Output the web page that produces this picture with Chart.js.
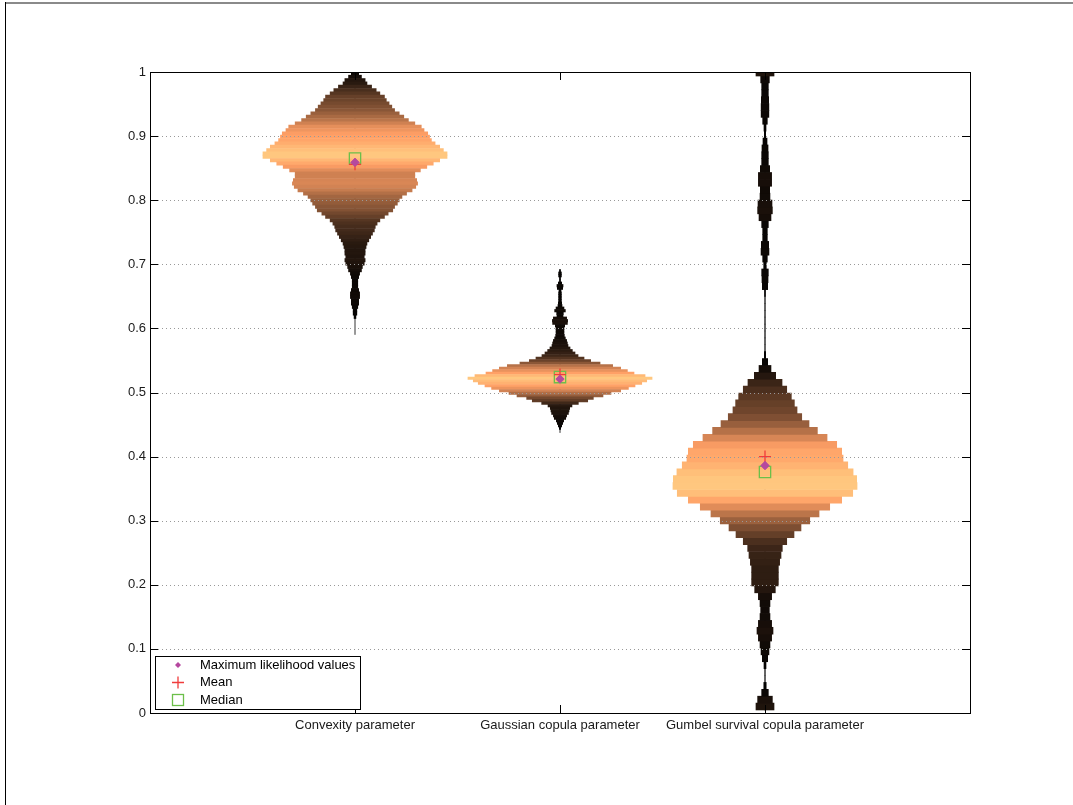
<!DOCTYPE html>
<html>
<head>
<meta charset="utf-8">
<title>Violin plot</title>
<script src="https://cdn.jsdelivr.net/npm/chart.js@4.4.0/dist/chart.umd.min.js"></script>
<style>
  html, body { margin: 0; padding: 0; background: #fff; }
  #wrap { position: relative; width: 1073px; height: 805px; overflow: hidden; }
  #chart { position: absolute; left: 0; top: 0; }
  .edge-top { position: absolute; left: 5px; top: 2px; width: 1068px; height: 2px; background: #8a8a8a; }
  .edge-left { position: absolute; left: 5px; top: 2px; width: 1px; height: 803px; background: #000; }
</style>
</head>
<body>
<div id="wrap">
  <canvas id="chart" width="1073" height="805"></canvas>
  <div class="edge-top"></div>
  <div class="edge-left"></div>
</div>
<script>
// Categories and tick labels
const categories = ['Convexity parameter', 'Gaussian copula parameter', 'Gumbel survival copula parameter'];
const legendLabels = ['Maximum likelihood values', 'Mean', 'Median'];

// Summary statistics per parameter
const mlValues = [0.859, 0.521, 0.386];
const meanValues = [0.856, 0.528, 0.400];
const medianValues = [0.865, 0.524, 0.376];
const rangeMin = [0.590, 0.437, 0.004];
const rangeMax = [1.000, 0.692, 1.000];

// Histogram bins (first bin centre, bin step) per parameter
const convexityBins = [0.9976, -0.0052];
const gaussianBins = [0.6900, -0.0039];
const gumbelBins = [0.0101, 0.01075];

// Relative density in each bin (1 = widest bin of that violin)
const convexityDensity = [
  0.04, 0.07, 0.11, 0.13, 0.18, 0.23, 0.27, 0.32, 0.34, 0.37,
  0.40, 0.43, 0.48, 0.53, 0.58, 0.65, 0.72, 0.75, 0.79, 0.81,
  0.83, 0.87, 0.92, 0.96, 1.00, 1.00, 0.92, 0.85, 0.78, 0.71,
  0.65, 0.65, 0.67, 0.68, 0.66, 0.62, 0.56, 0.51, 0.48, 0.46,
  0.43, 0.41, 0.36, 0.32, 0.27, 0.24, 0.22, 0.21, 0.19, 0.17,
  0.15, 0.13, 0.12, 0.11, 0.11, 0.10, 0.11, 0.10, 0.08, 0.07,
  0.05, 0.04, 0.03, 0.03, 0.03, 0.04, 0.05, 0.05, 0.04, 0.04,
  0.03, 0.02, 0.02, 0.01
];
const gaussianDensity = [
  0.005, 0.015, 0.015, 0.005, 0.005, 0.018, 0.033, 0.029, 0.011, 0.015,
  0.015, 0.015, 0.015, 0.018, 0.022, 0.043, 0.058, 0.036, 0.033, 0.072,
  0.083, 0.080, 0.051, 0.043, 0.043, 0.043, 0.047, 0.058, 0.072, 0.080,
  0.087, 0.109, 0.134, 0.163, 0.196, 0.261, 0.333, 0.435, 0.572, 0.659,
  0.732, 0.804, 0.924, 1.000, 0.942, 0.888, 0.815, 0.743, 0.659, 0.554,
  0.467, 0.362, 0.301, 0.199, 0.130, 0.105, 0.098, 0.091, 0.072, 0.062,
  0.040, 0.029, 0.018, 0.007
];
const gumbelDensity = [
  0.098, 0.080, 0.036, 0.013, 0, 0, 0.011, 0.029, 0.043, 0.054,
  0.072, 0.087, 0.072, 0.054, 0.047, 0.054, 0.072, 0.112, 0.145, 0.145,
  0.145, 0.159, 0.174, 0.188, 0.236, 0.315, 0.391, 0.486, 0.587, 0.703,
  0.833, 0.953, 1.000, 0.996, 0.957, 0.899, 0.848, 0.833, 0.779, 0.674,
  0.569, 0.478, 0.399, 0.348, 0.319, 0.286, 0.236, 0.185, 0.116, 0.065,
  0.029, 0.007, 0, 0, 0, 0, 0, 0, 0, 0,
  0.005, 0.029, 0.033, 0.036, 0.014, 0.025, 0.043, 0.040, 0.025, 0.025,
  0.036, 0.065, 0.080, 0.076, 0.054, 0.051, 0.072, 0.072, 0.051, 0.036,
  0.036, 0.033, 0.022, 0.007, 0.011, 0.025, 0.042, 0.042, 0.040, 0.036,
  0.036, 0.047, 0.098
];

const maxHalfWidth = 0.449;

// MATLAB 'copper' colormap
function copper(t) {
  const r = Math.min(1, 1.25 * t), g = 0.7812 * t, b = 0.4975 * t;
  return `rgb(${Math.round(r * 255)},${Math.round(g * 255)},${Math.round(b * 255)})`;
}

function violin(pos, bins, density) {
  const [start, step] = bins;
  return {
    type: 'bar',
    indexAxis: 'y',
    grouped: false,
    binStep: step,
    barThickness: 3, // replaced after layout with the bin height in pixels
    borderWidth: 0,
    order: 5,
    data: density.map((d, i) => ({
      y: start + step * i,
      x: [pos - d * maxHalfWidth, pos + d * maxHalfWidth]
    })),
    backgroundColor: density.map(copper)
  };
}

function whisker(i) {
  return {
    type: 'line',
    order: 6,
    data: [{ x: i + 1, y: rangeMin[i] }, { x: i + 1, y: rangeMax[i] }],
    borderColor: '#333',
    borderWidth: 1,
    pointRadius: 0
  };
}

const toPoints = (vals) => vals.map((v, i) => ({ x: i + 1, y: v }));

const datasets = [
  violin(1, convexityBins, convexityDensity),
  violin(2, gaussianBins, gaussianDensity),
  violin(3, gumbelBins, gumbelDensity),
  whisker(0), whisker(1), whisker(2),
  {
    type: 'scatter', order: 0, data: toPoints(mlValues),
    pointStyle: 'rectRot', pointRadius: 4.2,
    pointBackgroundColor: '#b5489f', pointBorderColor: '#b5489f', pointBorderWidth: 1
  },
  {
    type: 'scatter', order: 1, data: toPoints(meanValues),
    pointStyle: 'cross', pointRadius: 6,
    pointBorderColor: '#f03c3c', pointBorderWidth: 1.3
  },
  {
    type: 'scatter', order: 2, data: toPoints(medianValues),
    pointStyle: 'rect', pointRadius: 8,
    pointBackgroundColor: 'rgba(0,0,0,0)', pointBorderColor: '#6cbf4a', pointBorderWidth: 1.3
  }
];

// dotted grid on top of the violins
const gridPlugin = {
  id: 'dottedGrid',
  afterDatasetsDraw(chart) {
    const { ctx, chartArea: a, scales: { y } } = chart;
    ctx.save();
    ctx.strokeStyle = '#999';
    ctx.lineWidth = 1;
    ctx.setLineDash([1, 3]);
    y.ticks.forEach(t => {
      if (t.value <= 0 || t.value >= 1) return;
      const py = Math.round(y.getPixelForValue(t.value)) + 0.5;
      ctx.beginPath();
      ctx.moveTo(a.left, py);
      ctx.lineTo(a.right, py);
      ctx.stroke();
    });
    ctx.restore();
  }
};

// inward ticks, box and legend
const framePlugin = {
  id: 'frame',
  afterDraw(chart) {
    const { ctx, chartArea: a, scales: { x, y } } = chart;
    const tl = 8;
    ctx.save();
    ctx.strokeStyle = '#000';
    ctx.lineWidth = 1;
    ctx.beginPath();
    y.ticks.forEach(t => {
      const py = Math.round(y.getPixelForValue(t.value)) + 0.5;
      ctx.moveTo(a.left, py); ctx.lineTo(a.left + tl, py);
      ctx.moveTo(a.right, py); ctx.lineTo(a.right - tl, py);
    });
    [1, 2, 3].forEach(v => {
      const px = Math.round(x.getPixelForValue(v)) + 0.5;
      ctx.moveTo(px, a.bottom); ctx.lineTo(px, a.bottom - tl);
      ctx.moveTo(px, a.top); ctx.lineTo(px, a.top + tl);
    });
    ctx.stroke();
    ctx.strokeRect(a.left + 0.5, a.top + 0.5, a.right - a.left, a.bottom - a.top);

    // legend box
    const lx = 155.5, ly = 656.5, lw = 205, lh = 53;
    ctx.fillStyle = '#fff';
    ctx.fillRect(lx, ly, lw, lh);
    ctx.strokeRect(lx, ly, lw, lh);
    const mx = 178, rows = [665, 682.5, 700];

    ctx.fillStyle = '#b5489f';
    ctx.beginPath();
    ctx.moveTo(mx, rows[0] - 3); ctx.lineTo(mx + 3, rows[0]);
    ctx.lineTo(mx, rows[0] + 3); ctx.lineTo(mx - 3, rows[0]);
    ctx.closePath(); ctx.fill();

    ctx.strokeStyle = '#f03c3c'; ctx.lineWidth = 1.3;
    ctx.beginPath();
    ctx.moveTo(mx - 6, rows[1]); ctx.lineTo(mx + 6, rows[1]);
    ctx.moveTo(mx, rows[1] - 6); ctx.lineTo(mx, rows[1] + 6);
    ctx.stroke();

    ctx.strokeStyle = '#6cbf4a';
    ctx.strokeRect(mx - 5.5, rows[2] - 5.5, 11, 11);

    ctx.fillStyle = '#000';
    ctx.font = '13px "Liberation Sans", Arial, sans-serif';
    ctx.textBaseline = 'middle';
    legendLabels.forEach((s, i) => ctx.fillText(s, 200, rows[i]));
    ctx.restore();
  }
};

Chart.defaults.font.family = '"Liberation Sans", Arial, Helvetica, sans-serif';
Chart.defaults.font.size = 13;
Chart.defaults.color = '#1a1a1a';

const chart = new Chart(document.getElementById('chart'), {
  type: 'bar',
  data: { datasets },
  options: {
    responsive: false,
    animation: false,
    layout: { padding: { left: 0, top: 72, right: 103, bottom: 0 } },
    plugins: { legend: { display: false }, tooltip: { enabled: false } },
    scales: {
      x: {
        type: 'linear', min: 0, max: 4, offset: false,
        grid: { display: false, drawTicks: false, offset: false },
        border: { display: false },
        ticks: {
          stepSize: 1, autoSkip: false, maxRotation: 0, padding: 5,
          callback: (v) => categories[v - 1] || ''
        },
        afterFit: (s) => { s.height = 92; }
      },
      y: {
        type: 'linear', min: 0, max: 1, offset: false,
        grid: { display: false, drawTicks: false, offset: false },
        border: { display: false },
        ticks: {
          stepSize: 0.1, padding: 4,
          callback: (v) => String(Math.round(v * 10) / 10)
        },
        afterFit: (s) => { s.width = 150; }
      }
    }
  },
  plugins: [gridPlugin, framePlugin]
});

// bar height = one histogram bin on the y scale
const yScale = chart.scales.y;
chart.data.datasets.forEach(ds => {
  if (ds.binStep) {
    ds.barThickness = Math.abs(yScale.getPixelForValue(ds.binStep) - yScale.getPixelForValue(0));
  }
});
chart.update();
</script>
</body>
</html>
